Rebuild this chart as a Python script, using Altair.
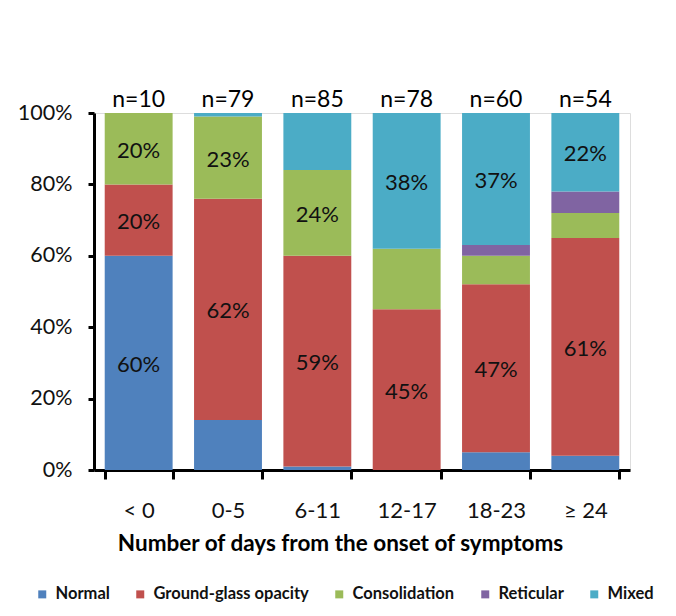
import altair as alt
import pandas as pd

categories = ["< 0", "0-5", "6-11", "12-17", "18-23", "≥ 24"]
n_labels = ["n=10", "n=79", "n=85", "n=78", "n=60", "n=54"]
types = ["Normal", "Ground-glass opacity", "Consolidation", "Reticular", "Mixed"]
colors = ["#4F81BD", "#C0504D", "#9BBB59", "#8064A2", "#4BACC6"]

normal = [60, 14, 1, 0, 5, 4]
ggo = [20, 62, 59, 45, 47, 61]
consolidation = [20, 23, 24, 17, 8, 7]
reticular = [0, 0, 0, 0, 3, 6]
mixed = [0, 1, 16, 38, 37, 22]

series = [normal, ggo, consolidation, reticular, mixed]
rows = []
for ti, (t, vals) in enumerate(zip(types, series)):
    for c, v in zip(categories, vals):
        rows.append({"cat": c, "type": t, "idx": ti, "value": v})
df = pd.DataFrame(rows)
ndf = pd.DataFrame({"cat": categories, "n": n_labels})

FONT = "Lato"

x_enc = alt.X("cat:N", sort=categories, title="Number of days from the onset of symptoms",
              scale=alt.Scale(paddingInner=0.24, paddingOuter=0.12),
              axis=alt.Axis(labelAngle=0, labelFontSize=22, labelColor="#111", labelFont=FONT,
                            labelBaseline="alphabetic", labelPadding=38,
                            domainColor="#000", domainWidth=3, tickColor="#000", tickWidth=3,
                            tickSize=9, tickBand="extent",
                            titleFont=FONT, titleFontSize=22.5, titleFontWeight="bold", titleColor="#000",
                            titleBaseline="alphabetic", titleY=80, titleX=246, titleAlign="center"))

bars = alt.Chart(df).mark_bar().encode(
    x=x_enc,
    y=alt.Y("value:Q", stack="zero", title=None,
            scale=alt.Scale(domain=[0, 100], nice=False),
            axis=alt.Axis(values=[0, 20, 40, 60, 80, 100], labelExpr="datum.value + '%'",
                          labelFontSize=21.5, labelColor="#111", labelFont=FONT, labelPadding=16,
                          domainColor="#000", domainWidth=3, tickColor="#000", tickWidth=3,
                          tickSize=6, grid=False)),
    color=alt.Color("type:N", scale=alt.Scale(domain=types, range=colors),
                    legend=alt.Legend(title=None, orient="none", direction="horizontal",
                                      legendX=-60, legendY=473, symbolType="square", symbolSize=64,
                                      symbolStrokeWidth=0, labelFont=FONT, labelFontSize=16.5,
                                      labelFontWeight="bold", labelColor="#111", labelOffset=5,
                                      columnPadding=22)),
    order=alt.Order("idx:Q"),
)

labels = alt.Chart(df).transform_stack(
    stack="value", groupby=["cat"], as_=["y0", "y1"], sort=[alt.SortField("idx")]
).transform_calculate(mid="(datum.y0 + datum.y1) / 2", txt="datum.value + '%'").transform_filter(
    "datum.value >= 20"
).mark_text(font=FONT, fontSize=22, color="#111", baseline="middle", dy=2).encode(
    x=alt.X("cat:N", sort=categories),
    y=alt.Y("mid:Q"),
    text="txt:N",
)

ntext = alt.Chart(ndf).mark_text(font=FONT, fontSize=23, color="#000", baseline="alphabetic", dy=-6).encode(
    x=alt.X("cat:N", sort=categories),
    y=alt.datum(100),
    text="n:N",
)

chart = alt.layer(bars, labels, ntext).properties(
    width=536, height=357,
    autosize=alt.AutoSizeParams(type="none"),
    padding={"left": 86, "top": 105, "right": 38, "bottom": 138},
).configure_view(stroke=None).configure(background="white")

chart.save("out.html", embed_options={"renderer": "svg", "actions": False})
